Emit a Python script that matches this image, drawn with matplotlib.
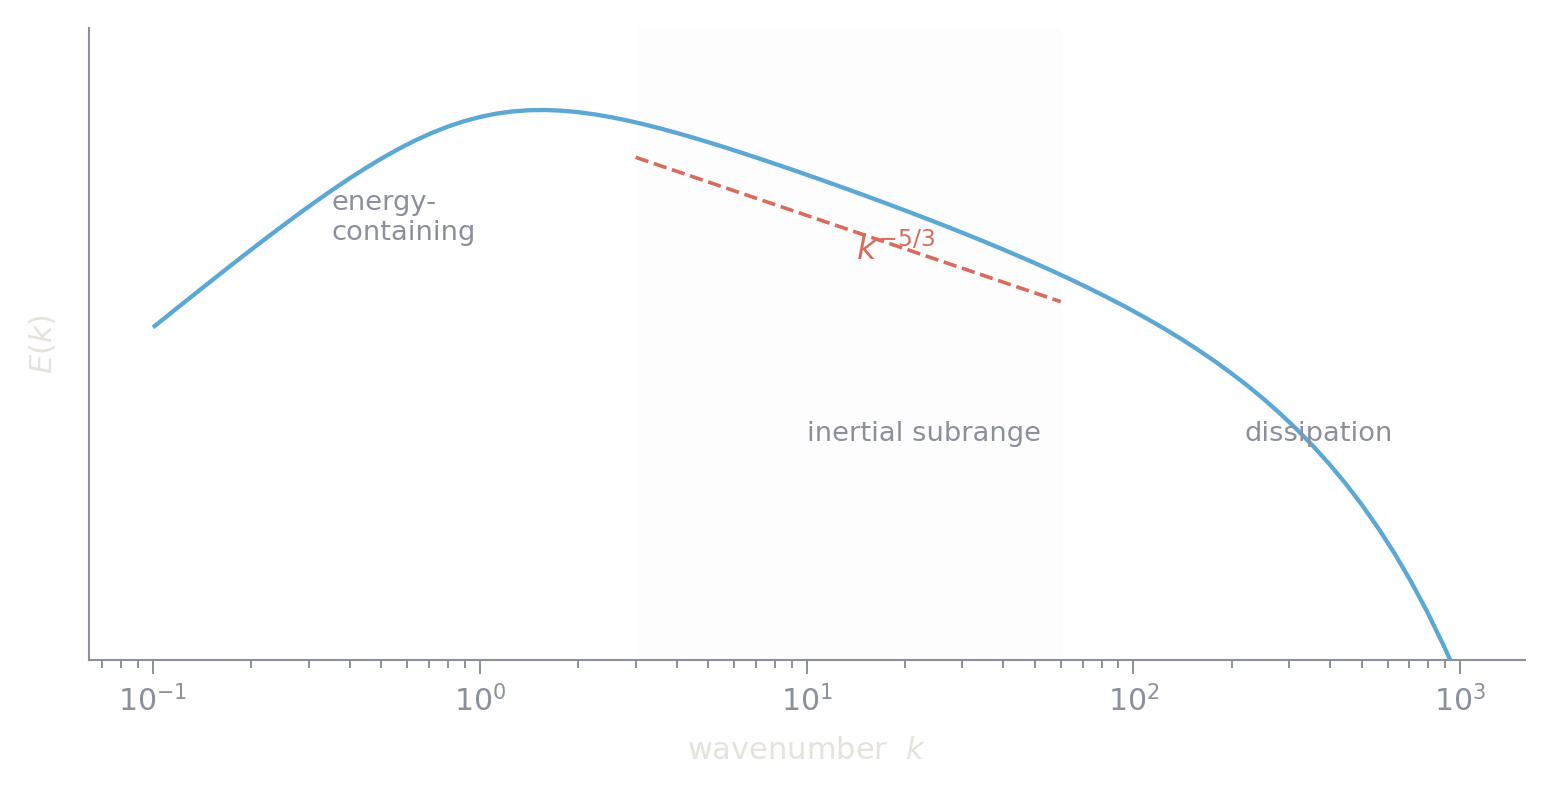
import matplotlib
matplotlib.use("Agg")
import matplotlib.pyplot as plt
from matplotlib.ticker import NullLocator, LogLocator

# --- data ---
k_vals = [0.1, 0.1122, 0.1259, 0.1413, 0.1585, 0.1778, 0.1995, 0.2239, 0.2512,
          0.2818, 0.3162, 0.3548, 0.3981, 0.4467, 0.5012, 0.5623, 0.6310, 0.7079,
          0.7943, 0.8913, 1.0, 1.122, 1.259, 1.413, 1.585, 1.778, 1.995, 2.239,
          2.512, 2.818, 3.162, 3.548, 3.981, 4.467, 5.012, 5.623, 6.310, 7.079,
          7.943, 8.913, 10.0, 11.22, 12.59, 14.13, 15.85, 17.78, 19.95, 22.39,
          25.12, 28.18, 31.62, 35.48, 39.81, 44.67, 50.12, 56.23, 63.10, 70.79,
          79.43, 89.13, 100.0, 112.2, 125.9, 141.3, 158.5, 177.8, 199.5, 223.9,
          251.2, 281.8, 316.2, 354.8, 398.1, 446.7, 501.2, 562.3, 631.0, 707.9,
          794.3, 891.3, 940.0]
E_vals = [9.712e-5, 1.528e-4, 2.400e-4, 3.759e-4, 5.872e-4, 9.140e-4, 1.416e-3,
          2.183e-3, 3.339e-3, 5.066e-3, 7.608e-3, 1.129e-2, 1.649e-2, 2.366e-2,
          3.327e-2, 4.566e-2, 6.094e-2, 7.889e-2, 9.877e-2, 0.1193, 0.1389,
          0.1557, 0.1683, 0.1754, 0.1768, 0.1728, 0.1643, 0.1525, 0.1385,
          0.1236, 0.1086, 9.416e-2, 8.080e-2, 6.873e-2, 5.802e-2, 4.868e-2,
          4.062e-2, 3.375e-2, 2.793e-2, 2.305e-2, 1.895e-2, 1.554e-2, 1.272e-2,
          1.037e-2, 8.440e-3, 6.849e-3, 5.542e-3, 4.471e-3, 3.595e-3, 2.880e-3,
          2.298e-3, 1.826e-3, 1.444e-3, 1.136e-3, 8.883e-4, 6.899e-4, 5.317e-4,
          4.064e-4, 3.076e-4, 2.306e-4, 1.707e-4, 1.247e-4, 8.979e-5, 6.356e-5,
          4.416e-5, 3.003e-5, 1.996e-5, 1.291e-5, 8.110e-6, 4.928e-6, 2.883e-6,
          1.619e-6, 8.662e-7, 4.400e-7, 2.105e-7, 9.429e-8, 3.918e-8, 1.498e-8,
          5.211e-9, 1.632e-9, 9.171e-10]

k_ref = [3.0, 60.0]
E_ref = [3.45e-2, 2.358e-4]

inertial_span = (3.0, 60.0)
x_limits = (0.0637, 1580.0)
y_limits = (1e-9, 3.0)

region_labels = ["energy-\ncontaining", "inertial subrange", "dissipation"]
slope_label = r"$k^{-5/3}$"
x_label = r"wavenumber  $k$"
y_label = r"$E(k)$"

# --- styling ---
BLUE = "#5ca8d4"
RED = "#d96a5e"
GREY = "#8b909c"
LIGHT = "#e5e3db"

fig = plt.figure(figsize=(15.52, 7.95), dpi=100)
ax = fig.add_axes([89 / 1552, 135 / 795, 1436 / 1552, 632 / 795])

ax.axvspan(*inertial_span, color="#fdfdfd", lw=0, zorder=0)
ax.plot(k_vals, E_vals, color=BLUE, lw=3.1, solid_capstyle="butt",
        solid_joinstyle="round", zorder=3)
ax.plot(k_ref, E_ref, color=RED, lw=2.6, ls="--", zorder=2)

ax.set_xscale("log")
ax.set_yscale("log")
ax.set_xlim(*x_limits)
ax.set_ylim(*y_limits)

ax.yaxis.set_major_locator(NullLocator())
ax.yaxis.set_minor_locator(NullLocator())
ax.xaxis.set_major_locator(LogLocator(base=10))
ax.xaxis.set_minor_locator(LogLocator(base=10, subs=range(2, 10)))

for s in ("top", "right"):
    ax.spines[s].set_visible(False)
for s in ("left", "bottom"):
    ax.spines[s].set_color(GREY)
    ax.spines[s].set_linewidth(1.5)

ax.tick_params(axis="x", which="major", length=10, width=1.4, color=GREY,
               labelcolor=GREY, labelsize=21.5, pad=8)
ax.tick_params(axis="x", which="minor", length=5.5, width=1.4, color=GREY)

ax.set_xlabel(x_label, color=LIGHT, fontsize=22, labelpad=13)
ax.set_ylabel(y_label, color=LIGHT, fontsize=22, labelpad=22)

ax.text(0.1692, 0.6994, region_labels[0], transform=ax.transAxes, color=GREY,
        fontsize=19.7, ha="left", va="center")
ax.text(0.4998, 0.3465, region_labels[1], transform=ax.transAxes, color=GREY,
        fontsize=19.7, ha="left", va="baseline")
ax.text(0.8045, 0.3465, region_labels[2], transform=ax.transAxes, color=GREY,
        fontsize=19.7, ha="left", va="baseline")
ax.text(0.534, 0.633, slope_label, transform=ax.transAxes, color=RED,
        fontsize=24, ha="left", va="baseline")

fig.savefig("out.png", dpi=100)
